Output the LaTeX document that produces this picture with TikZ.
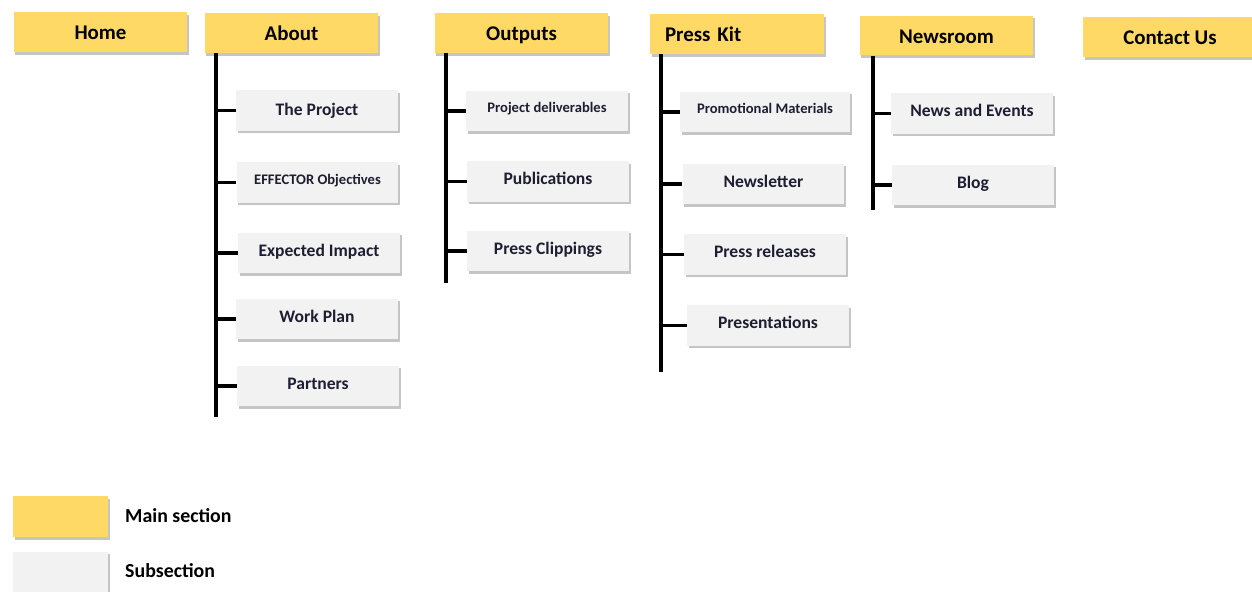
\documentclass[tikz,border=0pt]{standalone}
\usepackage{fontspec}
\setmainfont{Carlito}
\usetikzlibrary{shadows}
\definecolor{mainyellow}{HTML}{FFD966}
\definecolor{subgray}{HTML}{F2F2F2}
\definecolor{subtext}{HTML}{1E1E32}
\tikzstyle{boxshadow} = [drop shadow={shadow xshift=1pt, shadow yshift=-1.5pt, fill=black!45, opacity=0.5}]
\tikzstyle{mainbox} = [fill=mainyellow, rectangle, boxshadow, minimum height=0.8cm, minimum width=3.48cm, text height=0.38cm, text depth=0.07cm, font=\fontsize{11.9}{13}\selectfont\bfseries]
\tikzstyle{subbox} = [fill=subgray, rectangle, boxshadow, minimum height=0.81cm, minimum width=3.24cm, text=subtext, text height=0.2cm, text depth=0.08cm, font=\fontsize{10}{12}\selectfont\bfseries]
\tikzstyle{smalltext} = [text depth=0.14cm, font=\fontsize{8.3}{10}\selectfont\bfseries]
\tikzstyle{trunk} = [draw, line width=2.2pt]
\tikzstyle{legendtext} = [anchor=west, font=\fontsize{11.3}{13}\selectfont\bfseries]

\begin{document}
\begin{tikzpicture}[x=0.02cm, y=-0.02cm]

\useasboundingbox (0,0) rectangle (1252,592);

% main sections
\node[mainbox] (home) at (100.5,32) {Home};
\node[mainbox] (about) at (291.5,33) {About};
\node[mainbox] (outputs) at (521.5,33) {Outputs};
\node[mainbox, text width=2.88cm, inner xsep=0.3cm, align=left] (presskit) at (737,34) {Press Kit};
\node[mainbox] (newsroom) at (946.5,35.5) {Newsroom};
\node[mainbox] (contact) at (1170,37) {Contact Us};

% about
\node[subbox, text depth=0.02cm] (ab1) at (317,110.5) {The Project};
\node[subbox, smalltext] (ab2) at (317.5,182.5) {EFFECTOR Objectives};
\node[subbox] (ab3) at (319,253) {Expected Impact};
\node[subbox] (ab4) at (317,319) {Work Plan};
\node[subbox] (ab5) at (318,386) {Partners};

% outputs
\node[subbox, smalltext] (out1) at (547,111) {Project deliverables};
\node[subbox] (out2) at (548,181.5) {Publications};
\node[subbox] (out3) at (548,251) {Press Clippings};

% press kit
\node[subbox, smalltext, minimum width=3.4cm] (pk1) at (765,112) {Promotional Materials};
\node[subbox] (pk2) at (763.5,184) {Newsletter};
\node[subbox] (pk3) at (765,254.5) {Press releases};
\node[subbox] (pk4) at (768,325.5) {Presentations};

% newsroom
\node[subbox] (nr1) at (972,113.5) {News and Events};
\node[subbox] (nr2) at (973,185) {Blog};

\coordinate (abTop) at (216,53);
\coordinate (abEnd) at (216,417);
\coordinate (outTop) at (446,53);
\coordinate (outEnd) at (446,283);
\coordinate (pkTop) at (661,54);
\coordinate (pkEnd) at (661,372);
\coordinate (nrTop) at (873,56);
\coordinate (nrEnd) at (873,210);

\path[trunk]
(abTop) edge [-] (abEnd)
(outTop) edge [-] (outEnd)
(nrTop) edge [-] (nrEnd);
\path[trunk, line width=2.8pt] (pkTop) edge [-] (pkEnd);

\path[trunk]
(ab1.west -| abTop) edge (ab1.west)
(ab2.west -| abTop) edge (ab2.west)
(ab3.west -| abTop) edge (ab3.west)
(ab4.west -| abTop) edge (ab4.west)
(ab5.west -| abTop) edge (ab5.west)
(out1.west -| outTop) edge (out1.west)
(out2.west -| outTop) edge (out2.west)
(out3.west -| outTop) edge (out3.west)
(pk1.west -| pkTop) edge (pk1.west)
(pk2.west -| pkTop) edge (pk2.west)
(pk3.west -| pkTop) edge (pk3.west)
(pk4.west -| pkTop) edge (pk4.west)
(nr1.west -| nrTop) edge (nr1.west)
(nr2.west -| nrTop) edge (nr2.west);

% legend
\node[mainbox, minimum width=1.9cm, minimum height=0.82cm] (keymain) at (60.5,516.5) {};
\node[subbox, minimum width=1.9cm, minimum height=0.82cm] (keysub) at (60.5,572) {};
\node[legendtext] (keymaintext) at (119,516) {Main section};
\node[legendtext] (keysubtext) at (119,571) {Subsection};

\end{tikzpicture}
\end{document}
